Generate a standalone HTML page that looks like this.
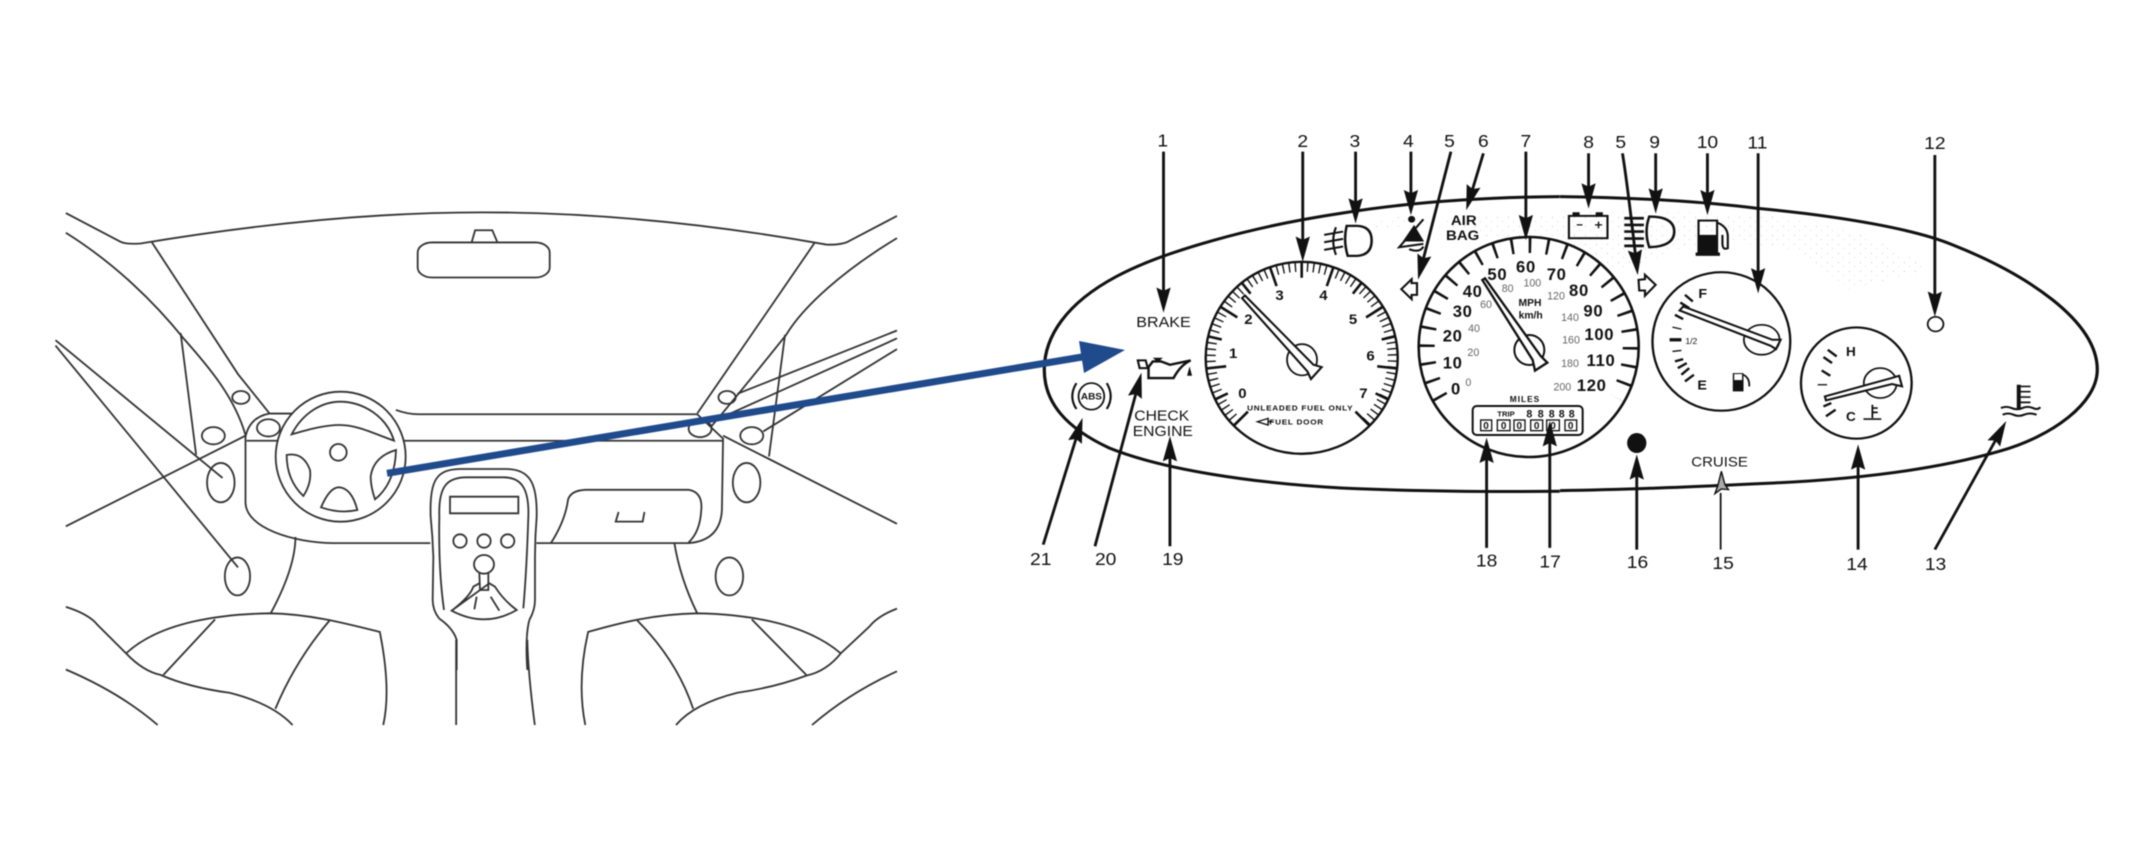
<!DOCTYPE html>
<html><head><meta charset="utf-8"><title>Instrument panel diagram</title>
<style>
html,body{margin:0;padding:0;background:#fff}
svg{display:block;filter:blur(.45px)}
text{font-family:"Liberation Sans",sans-serif;fill:#111}
.car *{fill:none;stroke:#333;stroke-width:1.8;vector-effect:non-scaling-stroke}
.z{fill:none;stroke:#111;stroke-linecap:butt}
.z text{stroke:none;text-anchor:middle;fill:#111}
.l{font-size:54px}
.n{font-size:50px;font-weight:bold;letter-spacing:2px}
.k{font-size:32px;fill:#666!important}
.s{font-size:44px}
.a{stroke-width:8;marker-end:url(#ah)}
</style></head><body>
<svg width="2138" height="845" viewBox="0 0 2138 845" xmlns="http://www.w3.org/2000/svg">
<defs>
<marker id="ah" markerUnits="userSpaceOnUse" markerWidth="80" markerHeight="50" refX="50" refY="25" orient="auto" viewBox="0 0 80 50">
<path d="M0 5 L76 25 L0 45 L10 25Z" fill="#111"/></marker>
<pattern id="st" width="11" height="9" patternUnits="userSpaceOnUse"><rect x="1" y="1" width="1" height="1" fill="#ccc"/><rect x="6" y="5" width="1" height="1" fill="#ddd"/></pattern>
</defs>
<rect width="2138" height="845" fill="#fff"/>
<path d="M1290 250 C1400 215 1600 205 1760 215 C1830 222 1880 235 1930 270 L1850 290 L1800 250 L1710 240 L1620 270 L1400 215Z" fill="url(#st)"/>

<!-- CAR INTERIOR -->
<g class="car" transform="translate(40 188) scale(.574 .358)">
<path d="M45 70 L140 150 Q150 158 175 155 C400 95 600 68 770 68 C950 68 1150 95 1370 158 Q1390 160 1405 152 L1493 78"/>
<path d="M195 152 L345 520 L400 630"/>
<path d="M45 125 C130 210 200 320 250 420 C300 510 340 590 358 690"/>
<path d="M245 405 L272 745"/>
<path d="M27 425 L318 810"/><path d="M27 440 L345 1060"/><path d="M45 945 L358 692"/>
<path d="M1350 152 L1145 630"/>
<path d="M1493 140 C1400 230 1330 330 1300 410 C1260 490 1210 590 1170 665"/>
<path d="M1298 410 L1270 750"/>
<path d="M1493 398 L1215 575"/><path d="M1493 420 L1175 650"/><path d="M1493 450 L1260 680"/>
<path d="M1190 692 L1493 938"/>
<!-- mirror -->
<rect x="658" y="152" width="230" height="98" rx="25" ry="28"/>
<path d="M752 152 L758 118 L788 118 L797 152"/>
<ellipse cx="350" cy="585" rx="15" ry="18"/><ellipse cx="302" cy="692" rx="20" ry="24"/><ellipse cx="398" cy="670" rx="20" ry="24"/>
<ellipse cx="1197" cy="585" rx="15" ry="18"/><ellipse cx="1150" cy="672" rx="20" ry="24"/><ellipse cx="1240" cy="692" rx="20" ry="24"/>
<ellipse cx="315" cy="823" rx="24" ry="55"/><ellipse cx="344" cy="1085" rx="22" ry="53"/>
<ellipse cx="1231" cy="823" rx="24" ry="55"/><ellipse cx="1201" cy="1085" rx="24" ry="53"/>
<path d="M400 630 L440 630"/><path d="M620 620 Q640 632 660 632 L1145 632"/>
<path d="M360 706 L415 706"/><path d="M635 706 L1190 706"/>
<path d="M400 630 Q365 640 358 695 L358 880 C360 950 440 990 510 992 L680 992"/>
<path d="M865 992 L1130 992 Q1185 985 1188 900 L1190 700 L1145 632"/>
<path d="M725 1262 L725 1500"/><path d="M849 1262 Q850 1350 862 1500"/>
<path d="M890 992 Q915 930 920 870 Q925 845 950 843 L1130 843 Q1155 850 1152 900 Q1150 960 1130 990"/>
<path d="M1008 905 L1003 932 L1050 932 L1053 905"/>
<path d="M445 975 Q445 1060 402 1188"/><path d="M1105 990 Q1115 1090 1145 1188"/>
<path d="M150 1300 C210 1210 320 1190 400 1188 C470 1190 530 1215 592 1240 Q612 1400 598 1500"/>
<path d="M305 1205 L215 1360"/><path d="M505 1207 Q445 1320 410 1455"/>
<path d="M45 1170 Q85 1190 100 1220 L150 1300 Q180 1350 210 1360 Q260 1395 330 1410 Q405 1440 440 1500"/>
<path d="M45 1345 Q140 1410 205 1500"/>
<path d="M1395 1300 C1330 1210 1220 1190 1145 1188 C1070 1190 1010 1215 955 1240 Q935 1380 950 1500"/>
<path d="M1240 1205 L1335 1360"/><path d="M1040 1207 Q1110 1320 1138 1455"/>
<path d="M1493 1175 Q1460 1195 1445 1225 L1395 1300 Q1370 1350 1335 1362 Q1280 1395 1215 1410 Q1140 1440 1108 1500"/>
<path d="M1493 1350 Q1410 1410 1345 1500"/>
</g>
<!-- wheel and console (uniform scale) -->
<g class="car" transform="translate(240 370) scale(.33333)">
<circle cx="302" cy="260" r="195" style="fill:#fff"/>
<path d="M155 193 C190 125 250 95 300 95 C370 95 440 140 462 212 C400 190 350 165 300 165 C250 165 200 180 155 193Z"/>
<circle cx="295" cy="247" r="25"/>
<path d="M140 255 Q190 245 210 300 Q215 340 190 378 Q140 330 140 255Z"/>
<path d="M468 240 Q400 260 392 320 Q392 350 405 388 Q465 340 468 240Z"/>
<path d="M243 412 Q270 350 298 352 Q335 355 352 420 Q300 432 243 412Z"/>
<path style="fill:#fff" d="M597 745 Q578 720 578 690 L580 560 Q578 500 572 440 C568 330 590 298 660 297 L800 297 C870 298 892 340 890 440 Q885 500 885 560 L885 690 Q885 720 868 750"/>
<path d="M612 720 Q595 600 598 440 C595 350 620 322 680 322 L790 322 C840 322 868 350 865 440 Q860 600 850 715"/>
<rect x="630" y="380" width="205" height="50"/>
<circle cx="660" cy="513" r="20"/><circle cx="732" cy="513" r="20"/><circle cx="803" cy="513" r="20"/>
<ellipse cx="732" cy="583" rx="30" ry="28"/>
<path d="M718 610 L720 660 L745 660 L745 610"/>
<path d="M635 722 Q690 680 700 650 L718 640 M748 640 L765 650 Q790 690 830 720 Q735 775 635 722Z"/>
<path d="M710 680 L703 718 M752 680 L778 722"/>
<path d="M597 745 Q640 775 650 810 L650 900"/><path d="M868 750 Q855 800 862 900"/>
</g>

<!-- PANEL LEFT -->
<g class="z" transform="translate(1020 120) scale(.357 .333)">
<path stroke-width="9" d="M1512 230 C1300 232 1100 245 900 280 C650 320 400 395 270 470 C130 550 68 650 68 750 C68 850 130 925 250 985 C400 1050 650 1090 900 1105 C1100 1115 1300 1117 1512 1115"/>
<g class="l"><text x="400" y="79">1</text><text x="792" y="81">2</text><text x="938" y="81">3</text><text x="1088" y="81">4</text><text x="1203" y="81">5</text><text x="1298" y="81">6</text><text x="1417" y="81">7</text><text x="58" y="1337">21</text><text x="240" y="1337">20</text><text x="428" y="1337">19</text><text x="1307" y="1341">18</text><text x="1485" y="1344">17</text></g>
<text x="402" y="621" font-size="45">BRAKE</text>
<text x="397" y="902" class="s">CHECK</text><text x="400" y="949" class="s">ENGINE</text>
<text x="1243" y="316" font-weight="bold" font-size="42">AIR</text><text x="1240" y="361" font-weight="bold" font-size="42">BAG</text>
<!-- tach numbers -->
<g font-size="42" font-weight="bold"><text x="623" y="835">0</text><text x="597" y="715">1</text><text x="640" y="613">2</text><text x="727" y="540">3</text><text x="850" y="540">4</text><text x="933" y="613">5</text><text x="982" y="722">6</text><text x="962" y="835">7</text></g>
<text x="785" y="873" font-size="23" font-weight="bold" letter-spacing="2">UNLEADED FUEL ONLY</text>
<text x="775" y="915" font-size="23" font-weight="bold" letter-spacing="2">FUEL DOOR</text>
<path stroke-width="4" d="M665 906 L695 896 L695 916Z M695 906 L708 906"/>
<!-- tach needle -->
<ellipse cx="790" cy="720" rx="42" ry="47" fill="#fff" stroke-width="5"/>
<polygon points="622,535 630,527 822,735 845,742 815,778 805,755" fill="#fff" stroke-width="6"/>
<!-- oil -->
<path stroke-width="7" d="M360 742 L360 775 L430 775 Q450 735 478 722 L420 735 L395 725 L372 725 Z"/>
<path stroke-width="6" d="M330 722 L352 722 L358 745 L335 745Z"/>
<path fill="#111" stroke="none" d="M372 714 L400 714 L386 728Z M475 740 L482 768 L468 768Z"/>
<!-- ABS -->
<ellipse cx="200" cy="830" rx="36" ry="40" stroke-width="5"/>
<text x="200" y="840" font-size="28" font-weight="bold">ABS</text>
<path stroke-width="6" d="M158 790 Q135 830 158 868 M243 790 Q265 830 243 868"/>
<!-- fog lamp -->
<path stroke-width="7" d="M915 318 L945 318 Q985 320 985 362 Q985 405 945 408 L918 408 Q905 362 915 318Z"/>
<path stroke-width="6" d="M852 345 L905 335 M852 367 L905 357 M852 390 L905 380 M885 322 Q870 362 885 405"/>
<!-- belt -->
<circle cx="1097" cy="298" r="10" fill="#111" stroke="none"/>
<path fill="#111" stroke="none" d="M1072 365 L1132 365 L1104 315Z"/>
<path stroke-width="6" d="M1130 298 L1062 382 L1130 372 M1090 388 Q1120 400 1130 380"/>
<!-- turn left -->
<path stroke-width="6" d="M1068 508 L1097 478 L1097 490 L1112 490 L1112 525 L1097 525 L1097 538Z"/>
</g>

<!-- GAUGES in real coordinates -->
<g fill="none" stroke="#111">
<circle cx="1301.7" cy="357.8" r="96" stroke-width="2.4"/>
<path d="M1237.4 422.1 A91 91 0 1 1 1366 422.1" stroke-width="10" stroke-dasharray="1.4 4.7"/>
<g transform="translate(1301.7 357.8)" stroke-width="2.6">
<line y1="-96" y2="-76" transform="rotate(-135)"/><line y1="-96" y2="-76" transform="rotate(-96.4)"/><line y1="-96" y2="-76" transform="rotate(-57.9)"/><line y1="-96" y2="-76" transform="rotate(-19.3)"/><line y1="-96" y2="-76" transform="rotate(19.3)"/><line y1="-96" y2="-76" transform="rotate(57.9)"/><line y1="-96" y2="-76" transform="rotate(96.4)"/><line y1="-96" y2="-76" transform="rotate(135)"/>
<line y1="-96" y2="-82" transform="rotate(-115.7)"/><line y1="-96" y2="-82" transform="rotate(-77.1)"/><line y1="-96" y2="-82" transform="rotate(-38.6)"/><line y1="-96" y2="-80" transform="rotate(0)"/><line y1="-96" y2="-82" transform="rotate(38.6)"/><line y1="-96" y2="-82" transform="rotate(77.1)"/><line y1="-96" y2="-82" transform="rotate(115.7)"/>
</g>
<circle cx="1528.7" cy="347" r="110" fill="#fff" stroke-width="2.6"/>
<path d="M1440.4 398 A102 102 0 1 1 1617 398" stroke-width="16" stroke-dasharray="2.6 15.2"/>
</g>

<!-- SPEEDO DETAILS (uniform scale) -->
<g class="z" transform="translate(1400 220) scale(.33333)">
<g class="n"><text x="168" y="523">0</text><text x="158" y="446">10</text><text x="158" y="365">20</text><text x="188" y="291">30</text><text x="218" y="231">40</text><text x="292" y="180">50</text><text x="378" y="158">60</text><text x="470" y="180">70</text><text x="537" y="228">80</text><text x="580" y="290">90</text><text x="598" y="360">100</text><text x="603" y="438">110</text><text x="575" y="513">120</text></g>
<g font-size="32"><text class="k" x="205" y="498">0</text><text class="k" x="220" y="408">20</text><text class="k" x="222" y="336">40</text><text class="k" x="258" y="264">60</text><text class="k" x="323" y="216">80</text><text class="k" x="397" y="199">100</text><text class="k" x="468" y="239">120</text><text class="k" x="510" y="303">140</text><text class="k" x="513" y="371">160</text><text class="k" x="510" y="441">180</text><text class="k" x="487" y="511">200</text></g>
<text x="390" y="258" font-size="31" font-weight="bold">MPH</text><text x="392" y="296" font-size="31" font-weight="bold">km/h</text>
<text x="375" y="546" font-size="25" font-weight="bold" letter-spacing="3">MILES</text>
<circle cx="388" cy="390" r="45" fill="#fff" stroke-width="6"/>
<polygon points="247,180 255,175 422,408 442,428 405,452 398,420" fill="#fff" stroke-width="7"/>
<rect x="218" y="558" width="330" height="87" rx="12" stroke-width="6" fill="#fff"/>
<text x="318" y="590" font-size="23" font-weight="bold">TRIP</text>
<g font-size="32" font-weight="bold"><text x="388" y="592">8</text><text x="422" y="592">8</text><text x="455" y="592">8</text><text x="485" y="592">8</text><text x="515" y="592">8</text></g>
<g stroke-width="4"><rect x="242" y="600" width="33" height="32"/><rect x="292" y="600" width="38" height="32"/><rect x="342" y="600" width="33" height="32"/><rect x="392" y="600" width="36" height="32"/><rect x="440" y="600" width="38" height="32"/><rect x="495" y="600" width="35" height="32"/></g>
<g font-size="30" font-weight="bold"><text x="258" y="627">0</text><text x="311" y="627">0</text><text x="358" y="627">0</text><text x="410" y="627">0</text><text x="459" y="627">0</text><text x="512" y="627">0</text></g>
</g>

<!-- ARROWS crossing the speedo -->
<g class="z" transform="translate(1020 120) scale(.357 .333)">
<path class="a" d="M402 95 L402 553"/><path class="a" d="M792 95 L792 400"/><path class="a" d="M940 95 L940 285"/><path class="a" d="M1095 95 L1095 260"/><path class="a" d="M1207 95 L1121 454"/><path class="a" d="M1298 100 L1257 246"/><path class="a" d="M1417 95 L1417 335"/>
<path class="a" d="M1307 1285 L1307 980"/><path class="a" d="M1484 1285 L1484 930"/><path class="a" d="M420 1280 L420 975"/><path class="a" d="M210 1280 L334 784"/><path class="a" d="M65 1275 L168 919"/>
</g>

<!-- PANEL RIGHT -->
<g class="z" transform="translate(1560 120) scale(.357 .333)">
<path stroke-width="9" d="M0 230 C200 232 400 245 550 265 C800 290 1000 330 1100 375 C1300 460 1505 600 1505 750 C1505 850 1380 950 1230 995 C1100 1035 900 1075 600 1090 C400 1100 200 1110 0 1113"/>
<g class="l"><text x="80" y="84">8</text><text x="170" y="84">5</text><text x="265" y="84">9</text><text x="413" y="84">10</text><text x="553" y="86">11</text><text x="1050" y="87">12</text><text x="217" y="1346">16</text><text x="457" y="1349">15</text><text x="832" y="1351">14</text><text x="1052" y="1351">13</text></g>
<text x="447" y="1041" font-size="42">CRUISE</text>
<!-- battery -->
<rect x="25" y="288" width="108" height="67" stroke-width="6"/>
<path stroke-width="10" d="M35 282 L55 282 M100 282 L120 282"/>
<path stroke-width="4" d="M47 315 L63 315 M98 315 L118 315 M108 305 L108 325"/>
<!-- high beam -->
<path stroke-width="7" d="M250 290 Q320 290 320 335 Q320 380 250 382 Q235 335 250 290Z"/>
<path stroke-width="8" d="M180 295 L235 295 M180 315 L235 315 M180 335 L235 335 M180 356 L235 356 M180 378 L235 378"/>
<!-- fuel icon -->
<rect x="388" y="302" width="52" height="100" stroke-width="6"/>
<rect x="388" y="345" width="52" height="57" fill="#111" stroke="none"/>
<rect x="380" y="398" width="68" height="10" fill="#111" stroke="none"/>
<path stroke-width="6" d="M440 308 Q470 320 470 350 L470 385 Q455 392 455 370 L455 345"/>
<!-- turn right -->
<path stroke-width="6" d="M268 495 L238 465 L238 478 L220 480 L222 512 L238 512 L238 528Z"/>
<!-- fuel gauge -->
<ellipse cx="452" cy="665" rx="193" ry="208" fill="#fff" stroke-width="6.5"/>
<path stroke-width="7" d="M350 525 L372 545 M337 548 L362 565 M322 585 L345 598 M340 765 L362 745 M350 785 L375 765 M330 745 L355 730 M322 725 L345 718"/>
<path stroke-width="4" d="M315 622 L340 628 M315 695 L340 692"/>
<path stroke-width="10" d="M307 660 L340 660"/>
<g font-size="40" font-weight="bold"><text x="400" y="535">F</text><text x="398" y="810">E</text></g>
<text x="368" y="673" font-size="24">1/2</text>
<ellipse cx="565" cy="660" rx="50" ry="45" fill="#fff" stroke-width="5"/>
<polygon points="335,572 345,560 595,660 618,660 605,688 590,678" fill="#fff" stroke-width="6"/>
<rect x="484" y="760" width="30" height="55" fill="#111" stroke="none"/><rect x="488" y="763" width="22" height="18" fill="#fff" stroke="none"/>
<path stroke-width="5" d="M514 765 Q532 775 530 800"/>
<!-- temp gauge -->
<ellipse cx="830" cy="790" rx="155" ry="167" fill="#fff" stroke-width="6.5"/>
<path stroke-width="7" d="M750 690 L775 710 M738 712 L762 730 M733 752 L757 768 M738 860 L760 850 M745 890 L772 870"/>
<path stroke-width="4" d="M722 795 L748 795"/>
<g font-size="38" font-weight="bold"><text x="815" y="708">H</text><text x="815" y="904">C</text></g>
<ellipse cx="897" cy="790" rx="46" ry="45" fill="#fff" stroke-width="5"/>
<polygon points="742,830 745,842 930,793 958,800 950,768 925,776" fill="#fff" stroke-width="6"/>
<path stroke-width="5" d="M875 855 L875 895 M875 865 L890 865 M875 878 L890 878 M850 898 L900 898"/>
<!-- 12 -->
<ellipse cx="1052" cy="613" rx="22" ry="22" stroke-width="5"/>
<!-- 13 -->
<path stroke-width="11" d="M1285 795 L1285 870"/>
<path stroke-width="5" d="M1285 800 L1318 800 M1285 816 L1318 816 M1285 832 L1318 832 M1285 848 L1318 848"/>
<path stroke-width="6" d="M1235 865 Q1250 858 1265 865 T1295 865 T1325 865 T1345 862 M1240 885 Q1255 878 1270 885 T1300 885 T1335 885"/>
<!-- 16 -->
<ellipse cx="215" cy="970" rx="27" ry="30" fill="#111" stroke="none"/>
<!-- 15 star -->
<path fill="#aaa" stroke="#111" stroke-width="4" d="M452 1055 L462 1095 L472 1110 L452 1108 L434 1122 L442 1098Z"/>
<path stroke-width="5" d="M450 1120 L450 1290"/>
<!-- arrows -->
<path class="a" d="M80 100 L80 240"/><path class="a" d="M175 100 Q190 200 215 440"/><path class="a" d="M268 100 L268 255"/><path class="a" d="M413 100 L413 260"/><path class="a" d="M555 100 L555 495"/><path class="a" d="M1050 105 L1050 565"/>
<path class="a" d="M215 1290 L215 1030"/><path class="a" d="M835 1290 L835 1000"/><path class="a" d="M1050 1290 L1238 927"/>
</g>

<!-- BLUE ARROW -->
<line x1="387" y1="473.3" x2="1085" y2="356.5" stroke="#1f4a8c" stroke-width="7"/>
<polygon points="1125,350 1079,341 1084,373" fill="#1f4a8c"/>
</svg>
</body></html>
